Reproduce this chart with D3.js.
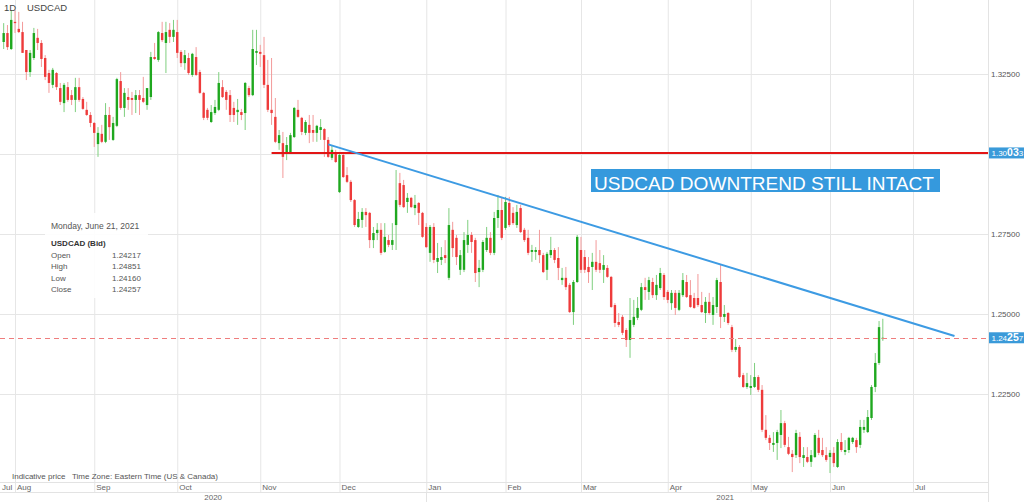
<!DOCTYPE html>
<html>
<head>
<meta charset="utf-8">
<script src="https://cdn.jsdelivr.net/npm/d3@7"></script>
<style>
body { margin: 0; background: #fff; }
svg { display: block; font-family: 'Liberation Sans', Arial, sans-serif; }
</style>
</head>
<body>
<svg id="chart" width="1024" height="502"></svg>
<script>
// daily USDCAD candles, one per weekday from the first day on
var firstDay = '2020-07-29';

var opens = [
	1.3350,1.3378,1.3328,1.3413,1.3391,1.3381,1.3325,1.3256,1.3300,1.3363,
	1.3347,1.3300,1.3253,1.3216,1.3253,1.3206,1.3159,1.3209,1.3184,1.3169,
	1.3209,1.3172,1.3138,1.3122,1.3097,1.3031,1.3063,1.3038,1.3122,1.3044,
	1.3088,1.3228,1.3144,1.3178,1.3175,1.3169,1.3184,1.3175,1.3153,1.3178,
	1.3303,1.3294,1.3378,1.3347,1.3388,1.3366,1.3381,1.3319,1.3284,1.3300,
	1.3247,1.3303,1.3256,1.3191,1.3138,1.3100,1.3128,1.3138,1.3209,1.3194,
	1.3184,1.3144,1.3131,1.3131,1.3128,1.3206,1.3184,1.3316,1.3319,1.3309,
	1.3216,1.3138,1.3116,1.3034,1.3034,1.3006,1.3006,1.3053,1.3138,1.3113,
	1.3066,1.3091,1.3075,1.3066,1.3075,1.3078,1.3044,1.2988,1.3003,1.2881,
	1.2997,1.2934,1.2913,1.2856,1.2772,1.2794,1.2819,1.2816,1.2731,1.2753,
	1.2763,1.2694,1.2731,1.2716,1.2778,1.2909,1.2903,1.2850,1.2863,1.2831,
	1.2847,1.2816,1.2772,1.2691,1.2772,1.2663,1.2669,1.2684,1.2613,1.2763,
	1.2738,1.2638,1.2638,1.2716,1.2747,1.2731,1.2631,1.2638,1.2700,1.2738,
	1.2691,1.2800,1.2825,1.2769,1.2847,1.2816,1.2778,1.2831,1.2763,1.2738,
	1.2694,1.2694,1.2700,1.2684,1.2638,1.2684,1.2700,1.2675,1.2606,1.2613,
	1.2591,1.2506,1.2600,1.2700,1.2678,1.2647,1.2647,1.2663,1.2659,1.2638,
	1.2644,1.2616,1.2528,1.2475,1.2491,1.2450,1.2419,1.2466,1.2488,1.2513,
	1.2584,1.2569,1.2600,1.2559,1.2581,1.2622,1.2569,1.2534,1.2566,1.2513,
	1.2559,1.2600,1.2559,1.2550,1.2550,1.2528,1.2503,1.2538,1.2497,1.2522,
	1.2600,1.2491,1.2503,1.2459,1.2388,1.2397,1.2309,1.2272,1.2269,1.2272,
	1.2303,1.2263,1.2138,1.2113,1.2091,1.2097,1.2122,1.2159,1.2084,1.2063,
	1.2059,1.2116,1.2050,1.2053,1.2038,1.2053,1.2113,1.2075,1.2059,1.2053,
	1.2066,1.2022,1.2100,1.2069,1.2075,1.2100,1.2106,1.2091,1.2138,1.2131,
	1.2175,1.2272,1.2347,1.24217
];

var highs = [
	1.3409,1.3403,1.3450,1.3450,1.3444,1.3413,1.3325,1.3325,1.3394,1.3391,
	1.3356,1.3309,1.3263,1.3269,1.3256,1.3222,1.3222,1.3225,1.3200,1.3238,
	1.3238,1.3178,1.3163,1.3131,1.3100,1.3084,1.3091,1.3159,1.3147,1.3116,
	1.3238,1.3256,1.3206,1.3206,1.3194,1.3200,1.3200,1.3241,1.3206,1.3319,
	1.3347,1.3384,1.3413,1.3413,1.3409,1.3419,1.3419,1.3325,1.3325,1.3316,
	1.3316,1.3334,1.3263,1.3194,1.3144,1.3153,1.3169,1.3256,1.3231,1.3200,
	1.3200,1.3163,1.3172,1.3141,1.3225,1.3213,1.3388,1.3388,1.3341,1.3366,
	1.3294,1.3300,1.3175,1.3075,1.3069,1.3053,1.3066,1.3147,1.3169,1.3116,
	1.3106,1.3122,1.3122,1.3091,1.3109,1.3081,1.3053,1.3028,1.3013,1.3003,
	1.3006,1.2959,1.2919,1.2859,1.2819,1.2831,1.2831,1.2819,1.2772,1.2784,
	1.2784,1.2784,1.2747,1.2784,1.2950,1.2941,1.2919,1.2878,1.2866,1.2872,
	1.2850,1.2819,1.2784,1.2778,1.2784,1.2722,1.2709,1.2731,1.2831,1.2788,
	1.2747,1.2700,1.2756,1.2794,1.2756,1.2738,1.2669,1.2731,1.2772,1.2756,
	1.2819,1.2872,1.2866,1.2866,1.2866,1.2834,1.2841,1.2841,1.2769,1.2763,
	1.2716,1.2709,1.2763,1.2691,1.2694,1.2741,1.2706,1.2709,1.2644,1.2647,
	1.2597,1.2606,1.2747,1.2741,1.2700,1.2678,1.2691,1.2731,1.2700,1.2684,
	1.2653,1.2619,1.2534,1.2503,1.2497,1.2456,1.2550,1.2544,1.2553,1.2597,
	1.2613,1.2616,1.2613,1.2622,1.2644,1.2628,1.2575,1.2575,1.2575,1.2575,
	1.2628,1.2622,1.2606,1.2566,1.2625,1.2569,1.2553,1.2566,1.2553,1.2613,
	1.2653,1.2528,1.2506,1.2466,1.2422,1.2403,1.2316,1.2316,1.2309,1.2347,
	1.2309,1.2278,1.2184,1.2122,1.2131,1.2138,1.2200,1.2166,1.2116,1.2075,
	1.2138,1.2131,1.2084,1.2084,1.2075,1.2128,1.2138,1.2113,1.2084,1.2075,
	1.2084,1.2109,1.2128,1.2106,1.2116,1.2116,1.2113,1.2169,1.2169,1.2200,
	1.2278,1.2378,1.2478,1.24851
];

var lows = [
	1.3328,1.3325,1.3325,1.3378,1.3378,1.3316,1.3231,1.3241,1.3294,1.3325,
	1.3272,1.3231,1.3191,1.3206,1.3200,1.3153,1.3131,1.3163,1.3153,1.3131,
	1.3163,1.3138,1.3119,1.3084,1.3022,1.2991,1.3034,1.3034,1.3044,1.3041,
	1.3084,1.3138,1.3116,1.3138,1.3122,1.3128,1.3122,1.3159,1.3138,1.3169,
	1.3294,1.3288,1.3350,1.3253,1.3347,1.3350,1.3300,1.3272,1.3263,1.3247,
	1.3241,1.3244,1.3188,1.3106,1.3106,1.3097,1.3122,1.3134,1.3175,1.3138,
	1.3100,1.3100,1.3091,1.3106,1.3075,1.3178,1.3181,1.3278,1.3272,1.3206,
	1.3131,1.3091,1.3034,1.3013,1.2925,1.2981,1.3003,1.3050,1.3113,1.3059,
	1.3059,1.3034,1.3038,1.3038,1.3044,1.2991,1.2988,1.2981,1.2972,1.2878,
	1.2925,1.2909,1.2850,1.2772,1.2769,1.2769,1.2772,1.2706,1.2706,1.2731,
	1.2684,1.2691,1.2709,1.2700,1.2700,1.2834,1.2831,1.2816,1.2831,1.2809,
	1.2778,1.2738,1.2706,1.2663,1.2659,1.2628,1.2653,1.2659,1.2606,1.2678,
	1.2653,1.2622,1.2631,1.2691,1.2691,1.2600,1.2584,1.2631,1.2694,1.2684,
	1.2684,1.2769,1.2731,1.2763,1.2772,1.2778,1.2769,1.2753,1.2725,1.2684,
	1.2663,1.2669,1.2659,1.2628,1.2606,1.2675,1.2659,1.2606,1.2591,1.2575,
	1.2503,1.2466,1.2597,1.2628,1.2628,1.2597,1.2575,1.2631,1.2628,1.2597,
	1.2613,1.2519,1.2459,1.2459,1.2434,1.2397,1.2363,1.2459,1.2481,1.2509,
	1.2544,1.2544,1.2550,1.2544,1.2575,1.2544,1.2534,1.2513,1.2497,1.2509,
	1.2553,1.2550,1.2519,1.2516,1.2522,1.2503,1.2472,1.2497,1.2466,1.2503,
	1.2456,1.2475,1.2466,1.2381,1.2381,1.2300,1.2269,1.2266,1.2247,1.2269,
	1.2256,1.2131,1.2106,1.2075,1.2069,1.2044,1.2081,1.2084,1.2059,1.2006,
	1.2050,1.2034,1.2022,1.2034,1.2022,1.2050,1.2059,1.2053,1.2038,1.2003,
	1.2022,1.2019,1.2069,1.2059,1.2066,1.2094,1.2066,1.2081,1.2128,1.2128,
	1.2169,1.2256,1.2341,1.24160
];

var closes = [
	1.3378,1.3334,1.3419,1.3409,1.3381,1.3316,1.3256,1.3316,1.3378,1.3347,
	1.3297,1.3241,1.3222,1.3263,1.3209,1.3163,1.3216,1.3169,1.3169,1.3209,
	1.3169,1.3141,1.3122,1.3097,1.3066,1.3066,1.3038,1.3122,1.3084,1.3097,
	1.3234,1.3144,1.3191,1.3169,1.3169,1.3184,1.3169,1.3163,1.3206,1.3303,
	1.3297,1.3381,1.3356,1.3381,1.3366,1.3388,1.3316,1.3284,1.3309,1.3253,
	1.3313,1.3247,1.3191,1.3113,1.3113,1.3131,1.3147,1.3222,1.3178,1.3169,
	1.3122,1.3122,1.3138,1.3122,1.3222,1.3184,1.3328,1.3322,1.3313,1.3216,
	1.3138,1.3128,1.3038,1.3059,1.2991,1.3028,1.3059,1.3144,1.3116,1.3069,
	1.3100,1.3066,1.3066,1.3088,1.3084,1.3044,1.2991,1.3013,1.2975,1.2997,
	1.2928,1.2913,1.2856,1.2778,1.2797,1.2819,1.2809,1.2731,1.2753,1.2763,
	1.2691,1.2741,1.2716,1.2731,1.2856,1.2841,1.2834,1.2863,1.2834,1.2841,
	1.2816,1.2741,1.2709,1.2772,1.2669,1.2675,1.2678,1.2675,1.2778,1.2706,
	1.2678,1.2684,1.2731,1.2747,1.2725,1.2628,1.2644,1.2725,1.2738,1.2691,
	1.2800,1.2825,1.2738,1.2850,1.2778,1.2784,1.2819,1.2756,1.2731,1.2691,
	1.2700,1.2700,1.2684,1.2631,1.2688,1.2700,1.2669,1.2644,1.2613,1.2584,
	1.2506,1.2600,1.2741,1.2638,1.2638,1.2631,1.2663,1.2638,1.2638,1.2653,
	1.2616,1.2522,1.2472,1.2466,1.2441,1.2419,1.2481,1.2491,1.2519,1.2584,
	1.2575,1.2606,1.2559,1.2591,1.2628,1.2553,1.2544,1.2566,1.2519,1.2566,
	1.2606,1.2553,1.2522,1.2519,1.2528,1.2506,1.2538,1.2503,1.2528,1.2606,
	1.2491,1.2500,1.2472,1.2388,1.2397,1.2303,1.2272,1.2284,1.2275,1.2303,
	1.2263,1.2138,1.2113,1.2097,1.2097,1.2131,1.2159,1.2091,1.2063,1.2053,
	1.2128,1.2053,1.2059,1.2038,1.2059,1.2122,1.2066,1.2059,1.2044,1.2066,
	1.2034,1.2100,1.2075,1.2075,1.2113,1.2113,1.2084,1.2147,1.2147,1.2178,
	1.2272,1.2347,1.2459,1.24257
];

var priceTicks = [1.225, 1.25, 1.275, 1.3, 1.325];
var monthStarts = ['2020-07-01','2020-08-03','2020-09-01','2020-10-01','2020-11-02','2020-12-01',
	'2021-01-01','2021-02-01','2021-03-01','2021-04-01','2021-05-03','2021-06-01','2021-07-01'];
var monthNames = ['Jul','Aug','Sep','Oct','Nov','Dec','Jan','Feb','Mar','Apr','May','Jun','Jul'];
var years = ['2020', '2021'];

var levelPrice = 1.30033;
var levelStart = '2020-11-05';
var trendStart = ['2020-11-26', 1.3030];
var trendEnd = ['2021-07-16', 1.2431];
var lastPrice = 1.24257;
var infoDate = 'Monday, June 21, 2021';
var infoLabels = ['Open', 'High', 'Low', 'Close'];

// ---------------------------------------------------------------

var parse = d3.timeParse('%Y-%m-%d');
var fmt = d3.format('.5f');
var base = parse('2020-08-03');

// count of weekdays from Aug 3 2020
function tradeIndex(date) {
	var days = Math.round((date - base) / 864e5);
	var weeks = Math.floor(days / 7);
	var rem = days - weeks * 7;
	return weeks * 5 + Math.min(rem, 5);
}

var days = [];
var d = parse(firstDay);
while (days.length < closes.length) {
	if (d.getDay() !== 0 && d.getDay() !== 6) days.push(d);
	d = d3.timeDay.offset(d, 1);
}

var W = 988;
var svg = d3.select('#chart');

var x = d3.scaleLinear().domain([0, 216]).range([15, 830]);
var y = d3.scaleLinear().domain([1.2, 1.35]).range([474, -6]);

// horizontal grid + price labels (the 1.30000 label sits under the level tag)
var yAxis = svg.append('g')
	.attr('transform', 'translate(' + W + ',0)')
	.call(d3.axisRight(y).tickValues(priceTicks).tickSize(-W).tickPadding(3).tickFormat(fmt));
yAxis.select('.domain').remove();
yAxis.selectAll('line').attr('stroke', '#e6e6e6');
yAxis.selectAll('text').attr('fill', '#555').style('font-size', '8px')
	.style('font-family', "'Liberation Sans', Arial, sans-serif");
yAxis.selectAll('.tick')
	.filter(function (d) { return Math.abs(d - levelPrice) < 0.003; })
	.select('text').remove();

// month grid
var monthIdx = monthStarts.map(function (s) { return tradeIndex(parse(s)); });
var xAxis = svg.append('g')
	.attr('transform', 'translate(0,492)')
	.call(d3.axisBottom(x).tickValues(monthIdx).tickSize(-492).tickFormat(''));
xAxis.select('.domain').remove();
xAxis.selectAll('line').attr('stroke', '#e6e6e6');

svg.selectAll('text.month')
	.data(monthIdx)
	.enter()
	.append('text')
	.attr('class', 'month')
	.attr('x', function (d) { return Math.max(2, x(d) + 2); })
	.attr('y', 490)
	.style('font-size', '8px')
	.attr('fill', '#666')
	.text(function (d, i) { return monthNames[i]; });

// axis frame
svg.append('line').attr('x1', 0).attr('x2', W).attr('y1', 482.5).attr('y2', 482.5).attr('stroke', '#e3e3e3');
svg.append('line').attr('x1', 0).attr('x2', W).attr('y1', 492.5).attr('y2', 492.5).attr('stroke', '#e3e3e3');
svg.append('line').attr('x1', W + 0.5).attr('x2', W + 0.5).attr('y1', 0).attr('y2', 502).attr('stroke', '#e3e3e3');
var janX = x(monthIdx[6]);
svg.append('line').attr('x1', Math.round(janX) + 0.5).attr('x2', Math.round(janX) + 0.5)
	.attr('y1', 492).attr('y2', 502).attr('stroke', '#e3e3e3');

svg.selectAll('text.year')
	.data(years)
	.enter()
	.append('text')
	.attr('class', 'year')
	.attr('x', function (d, i) { return i === 0 ? janX / 2 : (janX + 1024) / 2; })
	.attr('y', 500)
	.attr('text-anchor', 'middle')
	.style('font-size', '8px')
	.attr('fill', '#666')
	.text(function (d) { return d; });

// info panel
svg.append('rect').attr('x', 45).attr('y', 213).attr('width', 103).attr('height', 85)
	.attr('fill', '#fff').attr('fill-opacity', 0.9);
svg.append('text').attr('x', 51).attr('y', 229).style('font-size', '8.5px').attr('fill', '#555').text(infoDate);
svg.append('text').attr('x', 51).attr('y', 246).style('font-size', '8px').style('font-weight', 'bold')
	.attr('fill', '#333').text('USDCAD (Bid)');
var last = closes.length - 1;
var infoValues = [opens[last], highs[last], lows[last], closes[last]];
var info = svg.selectAll('g.info')
	.data(infoLabels)
	.enter()
	.append('g')
	.attr('class', 'info')
	.attr('transform', function (d, i) { return 'translate(0,' + (257.5 + i * 11.5) + ')'; });
info.append('text').attr('x', 51).style('font-size', '8px').attr('fill', '#555').text(function (d) { return d; });
info.append('text').attr('x', 112).style('font-size', '8px').attr('fill', '#555')
	.text(function (d, i) { return fmt(infoValues[i]); });

// candles
var candles = svg.append('g')
	.selectAll('g.candle')
	.data(days)
	.enter()
	.append('g')
	.attr('class', 'candle');

function up(i) { return closes[i] >= opens[i]; }

candles.append('line')
	.attr('x1', function (d) { return x(tradeIndex(d)); })
	.attr('x2', function (d) { return x(tradeIndex(d)); })
	.attr('y1', function (d, i) { return y(highs[i]); })
	.attr('y2', function (d, i) { return y(lows[i]); })
	.attr('stroke', function (d, i) { return up(i) ? '#7fcf7f' : '#f39a9a'; })
	.attr('stroke-width', 1);

candles.append('rect')
	.attr('x', function (d) { return x(tradeIndex(d)) - 1.2; })
	.attr('width', 2.4)
	.attr('y', function (d, i) { return y(Math.max(opens[i], closes[i])); })
	.attr('height', function (d, i) { return Math.max(1, Math.abs(y(opens[i]) - y(closes[i]))); })
	.attr('fill', function (d, i) { return up(i) ? '#1fa81f' : '#ee3b3b'; });

// level, trend and last price lines
svg.append('line')
	.attr('x1', x(tradeIndex(parse(levelStart)))).attr('x2', W)
	.attr('y1', y(levelPrice)).attr('y2', y(levelPrice))
	.attr('stroke', '#e21515').attr('stroke-width', 2);

svg.append('line')
	.attr('x1', x(tradeIndex(parse(trendStart[0])))).attr('y1', y(trendStart[1]))
	.attr('x2', x(tradeIndex(parse(trendEnd[0])))).attr('y2', y(trendEnd[1]))
	.attr('stroke', '#3d9be3').attr('stroke-width', 2);

svg.append('line')
	.attr('x1', 0).attr('x2', W)
	.attr('y1', Math.round(y(lastPrice)) + 0.5).attr('y2', Math.round(y(lastPrice)) + 0.5)
	.attr('stroke', '#ef7d7d').attr('stroke-dasharray', '5,4');

// price tags on the axis
[levelPrice, lastPrice].forEach(function (p) {
	var s = fmt(p);
	var ty = y(p);
	svg.append('rect').attr('x', 989).attr('y', ty - 5.5).attr('width', 36).attr('height', 11).attr('fill', '#3a9ad9');
	var t = svg.append('text').attr('x', 991.5).attr('y', ty + 3.5).attr('fill', '#fff');
	t.append('tspan').style('font-size', '8px').text(s.slice(0, 4));
	t.append('tspan').style('font-size', '10.5px').style('font-weight', 'bold').text(s.slice(4, 6));
	t.append('tspan').style('font-size', '8px').text(s.slice(6));
});

// annotation
svg.append('rect').attr('x', 591).attr('y', 169).attr('width', 349).attr('height', 23).attr('fill', '#3599dd');
svg.append('text').attr('x', 594).attr('y', 189.5).attr('fill', '#fff')
	.style('font-size', '19px')
	.attr('textLength', 340).attr('lengthAdjust', 'spacingAndGlyphs')
	.text('USDCAD DOWNTREND STILL INTACT');

// header and footer text
svg.append('text').attr('x', 4).attr('y', 11).style('font-size', '9.5px').attr('fill', '#444').text('1D');
svg.append('text').attr('x', 27).attr('y', 11).style('font-size', '9.5px').attr('fill', '#444').text('USDCAD');
svg.append('text').attr('x', 12).attr('y', 479).style('font-size', '8px').attr('fill', '#555').text('Indicative price');
svg.append('text').attr('x', 72).attr('y', 479).style('font-size', '8px').attr('fill', '#555')
	.text('Time Zone: Eastern Time (US & Canada)');
</script>
</body>
</html>
